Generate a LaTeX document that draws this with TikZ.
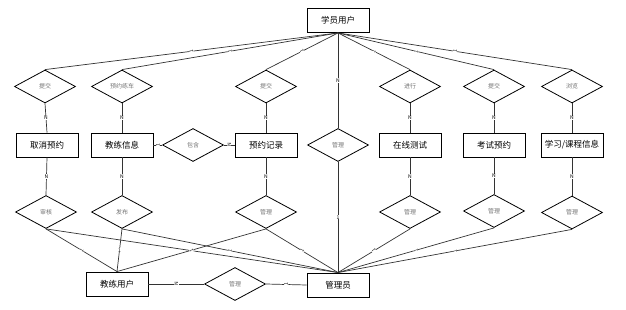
\documentclass[tikz,border=0pt]{standalone}
\usepackage{fontspec}
\setmainfont{Noto Sans CJK SC}
\usetikzlibrary{shapes.geometric}
\begin{document}
\begin{tikzpicture}[x=1pt,y=-1pt,
  ent/.style={draw, line width=0.9pt, minimum width=62pt, minimum height=24pt, inner sep=0pt, font=\fontsize{8.5}{10}\selectfont},
  rel/.style={draw, diamond, aspect=1.85, minimum width=61pt, minimum height=33pt, inner sep=0pt, line width=0.8pt, font=\fontsize{6}{7}\selectfont, text=black!55},
  conn/.style={line width=0.7pt, draw=black!80},
  lbl/.style={fill=white, inner sep=0.4pt, font=\fontsize{5}{6}\selectfont},
  slbl/.style={lbl, sloped, rotate=90}
]
\useasboundingbox (0,0) rectangle (626,310);

\node[ent] (stu) at (338,20.5) {学员用户};

\node[rel] (r1) at (45,86.5) {提交};
\node[rel] (r2) at (122,86.5) {预约练车};
\node[rel] (r3) at (266,86.5) {提交};
\node[rel] (r4) at (410,86.5) {进行};
\node[rel] (r5) at (494,86.5) {提交};
\node[rel] (r6) at (572,86.5) {浏览};

\node[ent] (e1) at (47,145) {取消预约};
\node[ent] (e2) at (122,145) {教练信息};
\node[ent] (e3) at (266,145) {预约记录};
\node[ent] (e4) at (410,145) {在线测试};
\node[ent] (e5) at (494,145) {考试预约};
\node[ent] (e6) at (572,145) {学习/课程信息};

\node[rel] (m0) at (338,145) {管理};
\node[rel] (b0) at (193,145) {包含};

\node[rel] (d1) at (46,212) {审核};
\node[rel] (d2) at (122,212) {发布};
\node[rel] (d3) at (266,212) {管理};
\node[rel] (d4) at (410,212) {管理};
\node[rel] (d5) at (494,211) {管理};
\node[rel] (d6) at (572,212.5) {管理};

\node[ent] (coach) at (117,284) {教练用户};
\node[rel] (mg) at (235,284) {管理};
\node[ent] (adm) at (338,285) {管理员};

\foreach \i in {1,...,6}{
  \draw[conn] (stu.south) -- node[slbl]{1} (r\i.north);
  \draw[conn] (r\i.south) -- node[lbl]{N} (e\i.north);
  \draw[conn] (e\i.south) -- node[lbl]{N} (d\i.north);
  \draw[conn] (d\i.south) -- node[slbl]{1} (adm.north);
}
\draw[conn] (stu.south) -- node[lbl]{N} (m0.north);
\draw[conn] (m0.south) -- node[lbl]{1} (adm.north);

\draw[conn] (d1.south) -- node[slbl]{1} (coach.north);
\draw[conn] (d2.south) -- node[lbl]{1} (coach.north);
\draw[conn] (d3.south) -- node[slbl]{1} (coach.north);

\draw[conn] (e2.east) -- node[slbl]{1} (b0.west);
\draw[conn] (b0.east) -- node[slbl]{N} (e3.west);

\draw[conn] (coach.east) -- node[slbl]{N} (mg.west);
\draw[conn] (mg.east) -- node[slbl]{1} (adm.west);
\end{tikzpicture}
\end{document}
